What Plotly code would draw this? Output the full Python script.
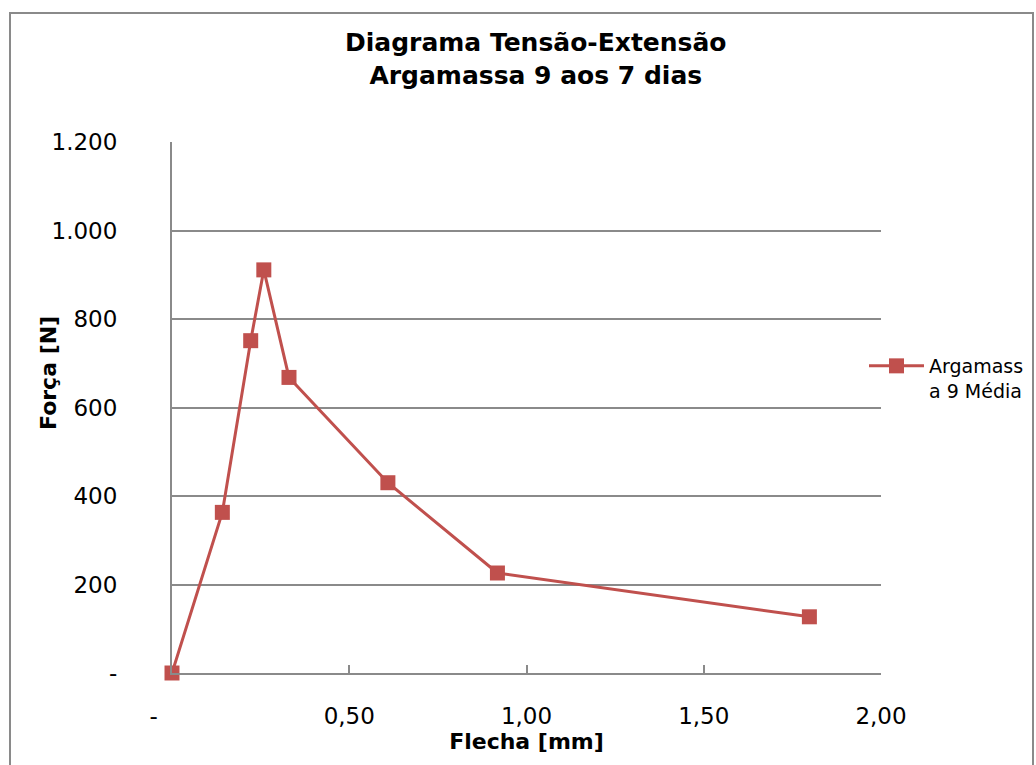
import plotly.graph_objects as go

# Flexural test, mortar 9 at 7 days: deflection (mm) vs. load (N)
flecha_mm = [0.0, 0.142, 0.222, 0.259, 0.330, 0.609, 0.918, 1.798]
forca_n = [0, 363, 751, 911, 668, 430, 226, 127]

serie_nome = "Argamass<br>a 9 Média"
x_ticks = [0, 0.5, 1.0, 1.5, 2.0]
x_tick_labels = ["-\u00a0\u00a0\u00a0\u00a0\u00a0", "0,50", "1,00", "1,50", "2,00"]
y_ticks = [0, 200, 400, 600, 800, 1000, 1200]
y_tick_labels = ["-", "200", "400", "600", "800", "1.000", "1.200"]

W, H = 1036, 765
L, R, T, B = 172, 155, 142, 92
pw, ph = W - L - R, H - T - B

RED = "#C0504D"
GRID = "#8a8a8a"
FONT = "DejaVu Sans"

fig = go.Figure()
fig.add_trace(go.Scatter(
    x=flecha_mm, y=forca_n, mode="lines+markers", name=serie_nome,
    line=dict(color=RED, width=3),
    marker=dict(symbol="square", size=15, color=RED, line=dict(color=RED, width=0)),
    cliponaxis=False,
))


def px_x(p):
    return (p - L) / pw


def px_y(p):
    return (H - B - p) / ph


fig.update_layout(
    width=W, height=H,
    margin=dict(l=L, r=R, t=T, b=B, autoexpand=False),
    paper_bgcolor="white", plot_bgcolor="white",
    font=dict(family=FONT, color="black"),
    showlegend=True,
    legend=dict(
        x=px_x(864), y=px_y(347), xanchor="left", yanchor="top",
        valign="top", itemwidth=55,
        font=dict(size=19, family=FONT, color="black"),
        bgcolor="rgba(0,0,0,0)", borderwidth=0,
    ),
    xaxis=dict(
        range=[0, 2], tickmode="array", tickvals=x_ticks, ticktext=x_tick_labels,
        showgrid=False, zeroline=False,
        showline=True, linecolor=GRID, linewidth=2,
        ticks="inside", ticklen=8, tickcolor=GRID, tickwidth=2,
        ticklabelstandoff=21,
        tickfont=dict(size=23, family=FONT, color="black"),
        title=dict(text="<b>Flecha [mm]</b>", font=dict(size=22, family=FONT, color="black"),
                   standoff=6),
    ),
    yaxis=dict(
        range=[0, 1200], tickmode="array", tickvals=y_ticks, ticktext=y_tick_labels,
        showgrid=True, gridcolor=GRID, gridwidth=2,
        zeroline=False, showline=True, linecolor=GRID, linewidth=2,
        ticks="", ticklabelstandoff=48,
        tickfont=dict(size=23, family=FONT, color="black"),
    ),
    annotations=[
        dict(text="<b>Diagrama Tensão-Extensão<br>Argamassa 9 aos 7 dias</b>",
             xref="paper", yref="paper", x=px_x(536), y=px_y(59),
             xanchor="center", yanchor="middle", showarrow=False,
             font=dict(size=25, family=FONT, color="black")),
        dict(text="<b>Força [N]</b>", textangle=-90,
             xref="paper", yref="paper", x=px_x(48), y=px_y(373),
             xanchor="center", yanchor="middle", showarrow=False,
             font=dict(size=22, family=FONT, color="black")),
    ],
    shapes=[
        dict(type="rect", xref="paper", yref="paper",
             x0=px_x(10), x1=px_x(1033), y0=px_y(775), y1=px_y(13),
             line=dict(color=GRID, width=2), fillcolor="rgba(0,0,0,0)", layer="below"),
    ],
)

fig.write_html("out.html")
